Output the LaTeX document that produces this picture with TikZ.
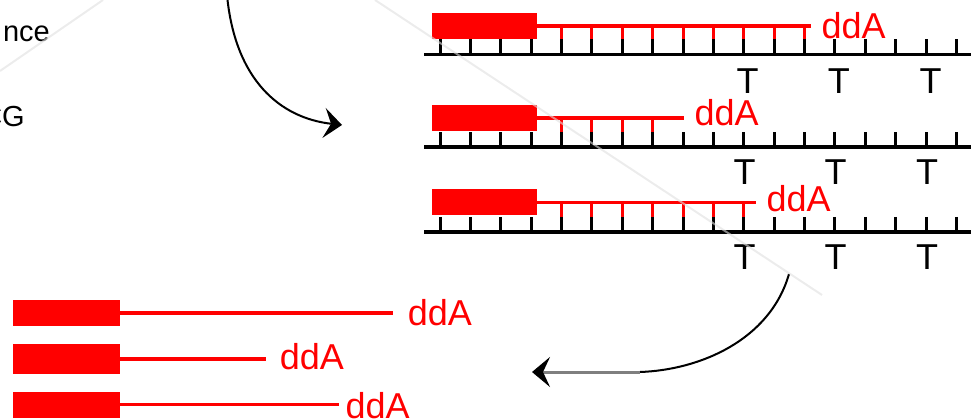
\documentclass[tikz,border=0pt]{standalone}
\usepackage{fontspec}
\setmainfont{Liberation Sans}
\usetikzlibrary{arrows.meta}
\definecolor{primerred}{HTML}{FF0000}
\definecolor{raygray}{HTML}{E0E0E0}
\definecolor{leadgray}{HTML}{7F7F7F}

\begin{document}
\begin{tikzpicture}[x=1pt,y=-1pt,
  primer/.style={fill=primerred, draw=none, inner sep=0pt, outer sep=0pt,
    minimum width=105pt, minimum height=26pt},
  strandline/.style={primerred, line width=3.5pt},
  backbone/.style={black, line width=3.5pt},
  basetick/.style={black, line width=3pt},
  redtick/.style={primerred, line width=3pt},
  ddlabel/.style={text=primerred, font=\fontsize{36}{36}\selectfont,
    inner sep=0pt, anchor=base west},
  baselabel/.style={text=black, font=\fontsize{36}{36}\selectfont,
    inner sep=0pt, anchor=base},
  sidelabel/.style={text=black, font=\fontsize{29}{29}\selectfont,
    inner sep=0pt, anchor=base east},
  flow/.style={black, line width=2pt},
  dart/.style={-{Stealth[black, length=18pt, width=30pt, inset=7pt]}},
  ray/.style={raygray, line width=2pt, opacity=0.6},
]
\useasboundingbox (0,0) rectangle (971,419);
\clip (0,0) rectangle (971,419);

% cut-off text at the left edge
\node[sidelabel] (seqtext) at (50,41.7) {nce};
\node[sidelabel] (cgtext) at (25,126.7) {CG};

% template strands with extended primers
\foreach \n/\B/\R/\E/\K/\dx/\dy/\tb/\ta/\tbx/\tc in {
  1/54.5/25.8/811/12/821.5/38.3/94/747.5/838.8/930.5,
  2/147.2/117.8/683.5/7/694.4/126/185/744.5/835.5/927,
  3/232/202.5/755.6/10/766.5/211.7/270/744.5/835.5/927}
{
  \draw[backbone] (424,\B) -- (975,\B);
  \foreach \k in {0,...,17}
    \draw[basetick] ({440+30.38*\k},\B-15) -- ({440+30.38*\k},\B);
  \node[primer] (primer\n) at (484.2,\R) {};
  \coordinate (tail\n) at (\E,\R);
  \draw[strandline] (primer\n.east) -- (tail\n);
  \foreach \k in {4,...,\K}
    \draw[redtick] ({440+30.38*\k},\R) -- ({440+30.38*\k},\B-15);
  \node[ddlabel] (stop\n) at (\dx,\dy) {ddA};
  \node[baselabel] (ta\n) at (\ta,\tb) {T};
  \node[baselabel] (tb\n) at (\tbx,\tb) {T};
  \node[baselabel] (tc\n) at (\tc,\tb) {T};
}

% released fragments
\foreach \n/\cy/\h/\E/\dx/\dy in {
  1/312.8/25.7/393.3/407.6/325.7,
  2/358.8/29.7/265.7/279.6/369.3,
  3/404.7/26/338.7/345.3/418}
{
  \node[primer, minimum width=107.3pt, minimum height=\h pt] (frag\n) at (66.3,\cy) {};
  \coordinate (fragend\n) at (\E,\cy);
  \draw[strandline] (frag\n.east) -- (fragend\n);
  \node[ddlabel] (fragstop\n) at (\dx,\dy) {ddA};
}

% curved arrows
\coordinate (inA) at (227,-5);
\coordinate (inB) at (342,125);
\draw[flow, dart] (inA) .. controls (235,80) and (280,118) .. (inB);

\coordinate (outA) at (789,274);
\coordinate (outB) at (640,372);
\coordinate (outC) at (532,372);
\draw[flow] (outA) .. controls (770,340) and (700,370) .. (outB);
\draw[leadgray, line width=3pt, dart] (outB) -- (outC);

% faint diagonal rays
\coordinate (rayA1) at (375,0);
\coordinate (rayA2) at (822,295);
\coordinate (rayB1) at (0,71);
\coordinate (rayB2) at (103,0);
\draw[ray] (rayA1) -- (rayA2);
\draw[ray] (rayB1) -- (rayB2);
\end{tikzpicture}
\end{document}
